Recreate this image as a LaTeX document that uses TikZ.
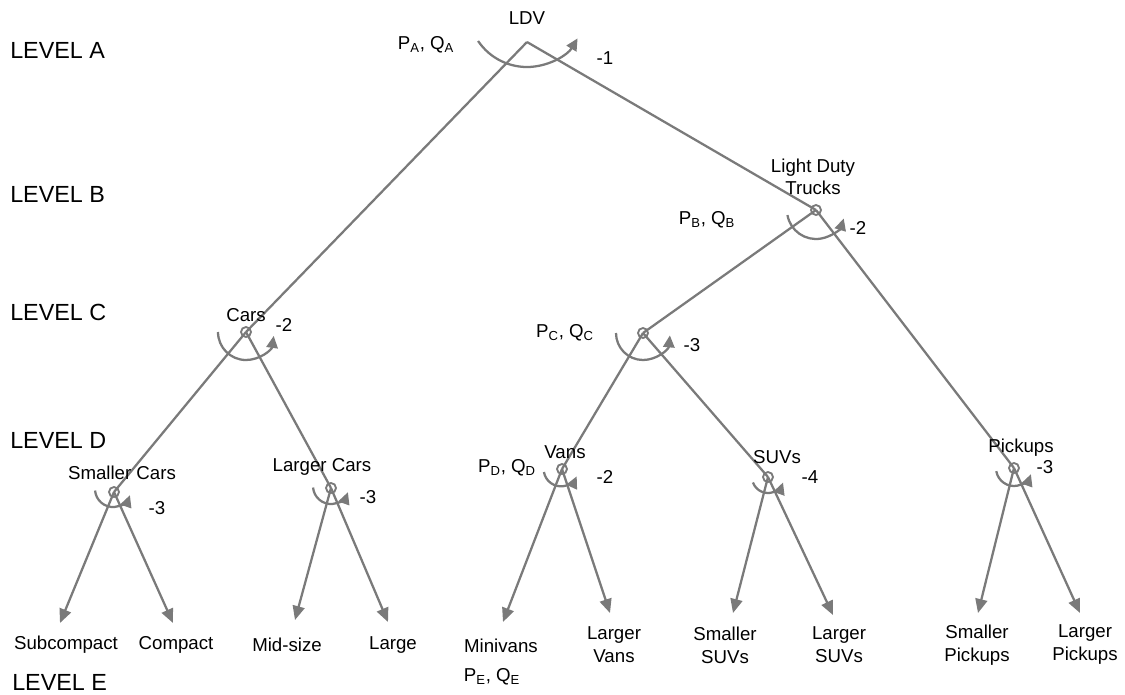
\documentclass[tikz,border=0pt]{standalone}
\usepackage{fontspec}
\setmainfont{Liberation Sans}
\usetikzlibrary{arrows.meta}
\definecolor{lg}{HTML}{7A7A7A}
\begin{document}
\begin{tikzpicture}[x=0.75pt,y=-0.75pt,
 conn/.style={draw=lg, line width=1.7pt},
 arr/.style={conn, -{Triangle[length=10.5pt,width=9pt]}},
 elast/.style={conn, -{Triangle[length=9pt,width=8.5pt]}},
 junc/.style={circle, draw=lg, line width=1.4pt, minimum size=7.5pt, inner sep=0pt},
 lbl/.style={font=\fontsize{14}{17.25}\selectfont, inner sep=0pt, align=center},
 lev/.style={font=\fontsize{17.5}{20}\selectfont, inner sep=0pt, anchor=west}
]
\useasboundingbox (0,0) rectangle (1125,694);

% level labels
\node[lev] (la) at (10,50) {LEVEL A};
\node[lev] (lb) at (10,194) {LEVEL B};
\node[lev] (lc) at (10,312) {LEVEL C};
\node[lev] (ld) at (10,440) {LEVEL D};
\node[lev] (le) at (12,682) {LEVEL E};

% junctions
\coordinate (ldv) at (527,42);
\node[junc] (ldt) at (816,210) {};
\node[junc] (cars) at (246,332) {};
\node[junc] (pc) at (643,333) {};
\node[junc] (scars) at (114,492) {};
\node[junc] (lcars) at (331,488) {};
\node[junc] (vans) at (562,469) {};
\node[junc] (suvs) at (768,477) {};
\node[junc] (pick) at (1014,468) {};

% main connectors
\draw[conn] (ldv) -- (cars.center);
\draw[conn] (ldv) -- (ldt.center);
\draw[conn] (cars.center) -- (scars.center);
\draw[conn] (cars.center) -- (lcars.center);
\draw[conn] (ldt.center) -- (pc.center);
\draw[conn] (ldt.center) -- (pick.center);
\draw[conn] (pc.center) -- (vans.center);
\draw[conn] (pc.center) -- (suvs.center);

% leaf tips
\coordinate (tsub) at (60,623);
\coordinate (tcom) at (173,623);
\coordinate (tmid) at (295,620);
\coordinate (tlar) at (388,622);
\coordinate (tmin) at (503,622);
\coordinate (tlv) at (610,613);
\coordinate (tss) at (733,613);
\coordinate (tls) at (833,615);
\coordinate (tsp) at (978,613);
\coordinate (tlp) at (1080,613);

\draw[arr] (scars.center) -- (tsub);
\draw[arr] (scars.center) -- (tcom);
\draw[arr] (lcars.center) -- (tmid);
\draw[arr] (lcars.center) -- (tlar);
\draw[arr] (vans.center) -- (tmin);
\draw[arr] (vans.center) -- (tlv);
\draw[arr] (suvs.center) -- (tss);
\draw[arr] (suvs.center) -- (tls);
\draw[arr] (pick.center) -- (tsp);
\draw[arr] (pick.center) -- (tlp);

% elasticity arcs
\coordinate (cA) at (527,8);
\draw[elast] ([shift={(214:44.25pt)}]cA) arc[start angle=214,end angle=329,radius=44.25pt];
\coordinate (cB) at (816,210);
\draw[elast] ([shift={(190:21.75pt)}]cB) arc[start angle=190,end angle=343,radius=21.75pt];
\coordinate (cC) at (246,332);
\draw[elast] ([shift={(180:21pt)}]cC) arc[start angle=180,end angle=352,radius=21pt];
\coordinate (cP) at (643,333);
\draw[elast] ([shift={(180:20.25pt)}]cP) arc[start angle=180,end angle=355,radius=20.25pt];
\coordinate (cSC) at (113,489);
\draw[elast] ([shift={(185:13.5pt)}]cSC) arc[start angle=185,end angle=340,radius=13.5pt];
\coordinate (cLC) at (331,486);
\draw[elast] ([shift={(185:13.5pt)}]cLC) arc[start angle=185,end angle=340,radius=13.5pt];
\coordinate (cV) at (561,469);
\draw[elast] ([shift={(190:13pt)}]cV) arc[start angle=190,end angle=335,radius=13pt];
\coordinate (cS) at (768,477);
\draw[elast] ([shift={(200:12pt)}]cS) arc[start angle=200,end angle=340,radius=12pt];
\coordinate (cPk) at (1014,468);
\draw[elast] ([shift={(190:13.5pt)}]cPk) arc[start angle=190,end angle=340,radius=13.5pt];

% junction labels
\node[lbl] (nldv) at (527,18) {LDV};
\node[lbl] (pa) at (426,45) {P\textsubscript{A}, Q\textsubscript{A}};
\node[lbl] (ea) at (605,58) {-1};
\node[lbl, font=\fontsize{14}{16.5}\selectfont] (nldt) at (813,177) {Light Duty\\Trucks};
\node[lbl] (pb) at (707,220) {P\textsubscript{B}, Q\textsubscript{B}};
\node[lbl] (eb) at (858,228) {-2};
\node[lbl] (ncars) at (246,315) {Cars};
\node[lbl] (ec) at (284,325) {-2};
\node[lbl] (pcl) at (565,333) {P\textsubscript{C}, Q\textsubscript{C}};
\node[lbl] (epc) at (692,345) {-3};
\node[lbl] (nsc) at (122,473) {Smaller Cars};
\node[lbl] (esc) at (157,508) {-3};
\node[lbl] (nlc) at (322,467) {Larger Cars};
\node[lbl] (elc) at (368,497) {-3};
\node[lbl] (nvans) at (565,452) {Vans};
\node[lbl] (pd) at (507,468) {P\textsubscript{D}, Q\textsubscript{D}};
\node[lbl] (ev) at (605,477) {-2};
\node[lbl] (nsuvs) at (777,457) {SUVs};
\node[lbl] (es) at (810,477) {-4};
\node[lbl] (npick) at (1021,448) {Pickups};
\node[lbl] (ep) at (1045,467) {-3};

% leaf labels
\node[lbl] (lsub) at (66,645) {Subcompact};
\node[lbl] (lcom) at (176,645) {Compact};
\node[lbl] (lmid) at (287,645) {Mid-size};
\node[lbl] (llar) at (393,645) {Large};
\node[lbl] (lmin) at (501,646) {Minivans};
\node[lbl] (pe) at (492,677) {P\textsubscript{E}, Q\textsubscript{E}};
\node[lbl] (llv) at (614,645) {Larger\\Vans};
\node[lbl] (lss) at (725,645) {Smaller\\SUVs};
\node[lbl] (lls) at (839,645) {Larger\\SUVs};
\node[lbl] (lsp) at (977,645) {Smaller\\Pickups};
\node[lbl] (llp) at (1085,645) {Larger\\Pickups};
\end{tikzpicture}
\end{document}
